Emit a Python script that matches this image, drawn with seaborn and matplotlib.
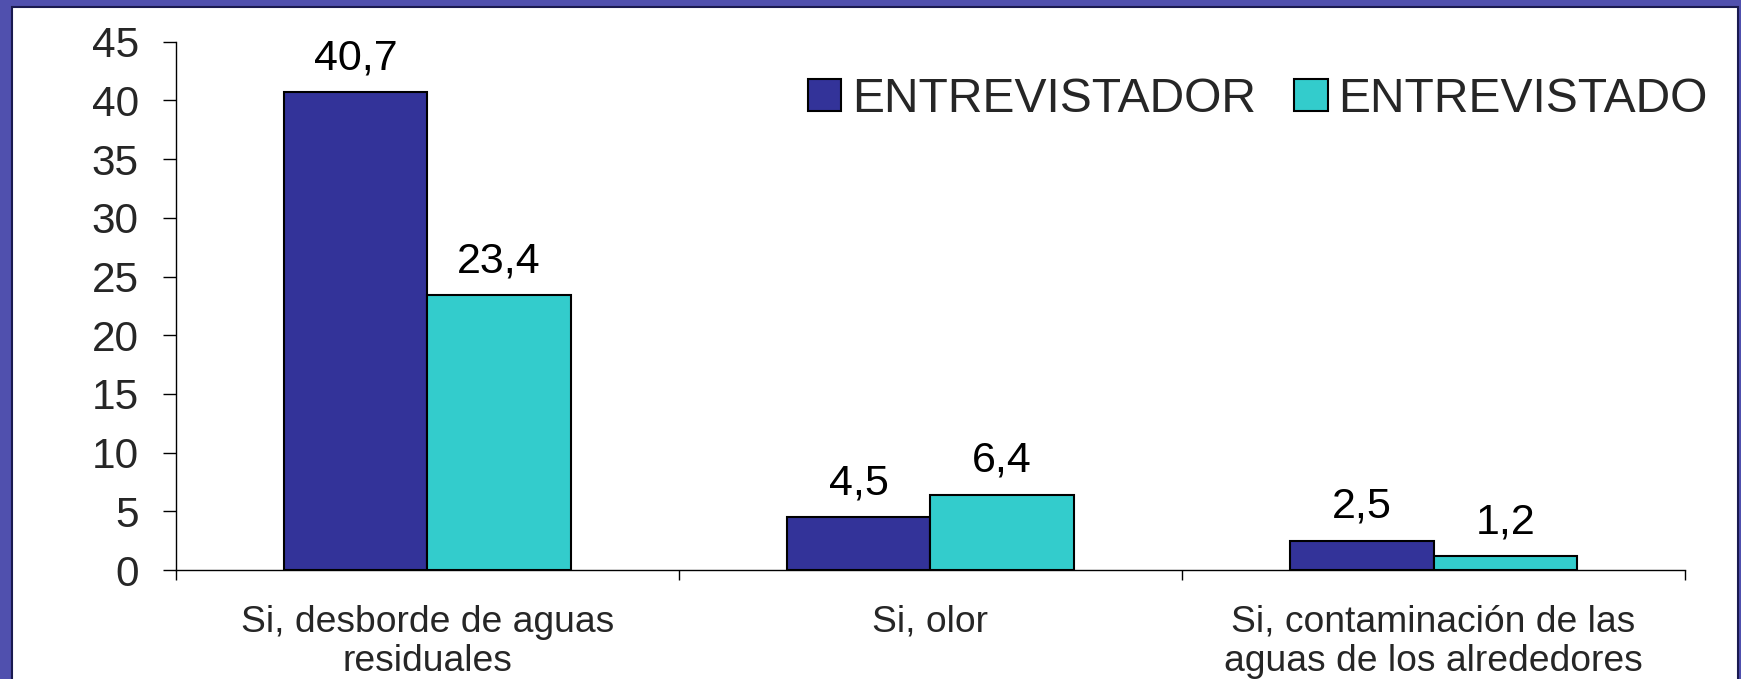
import numpy as np
import pandas as pd
import seaborn as sns
import matplotlib.pyplot as plt
from matplotlib.patches import Rectangle
from matplotlib.ticker import FixedLocator

sns.set_theme(style="white")
plt.rcParams["font.family"] = ["Liberation Sans", "DejaVu Sans"]

CATEGORIES = ["Si, desborde de aguas\nresiduales", "Si, olor",
              "Si, contaminación de las\naguas de los alrededores"]
SERIES = ["ENTREVISTADOR", "ENTREVISTADO"]
ENTREVISTADOR = [40.7, 4.5, 2.5]
ENTREVISTADO = [23.4, 6.4, 1.2]
COLORS = ["#333399", "#33CCCC"]
YTICKS = [0, 5, 10, 15, 20, 25, 30, 35, 40, 45]

df = pd.DataFrame({
    "cat": CATEGORIES * 2,
    "serie": [SERIES[0]] * 3 + [SERIES[1]] * 3,
    "valor": ENTREVISTADOR + ENTREVISTADO,
})

fig = plt.figure(figsize=(17.41, 6.79), dpi=100)
fig.patch.set_facecolor("#5050ae")

# white slide panel behind the chart
bg = fig.add_axes([0, 0, 1, 1], zorder=-10)
bg.set_axis_off()
bg.add_patch(Rectangle((12 / 1741, -0.01), (1738 - 12) / 1741, 1.01 - 7 / 679,
                       transform=bg.transAxes, facecolor="white",
                       edgecolor="#1a1a50", linewidth=1.5))

ax = fig.add_axes([0.1009, 0.1605, 0.9679 - 0.1009, 0.9386 - 0.1605])
ax.set_facecolor("none")

sns.barplot(data=df, x="cat", y="valor", hue="serie", palette=COLORS, saturation=1,
            width=0.57, edgecolor="black", linewidth=1.5, ax=ax, legend=True)

for cont in ax.containers:
    ax.bar_label(cont, labels=[f"{v:.1f}".replace(".", ",") for v in cont.datavalues],
                 padding=10, fontsize=31, color="black")

ax.set_ylim(0, 45)
ax.set_xlim(-0.5, 2.5)
ax.set_yticks(YTICKS)
ax.set_yticklabels([str(t) for t in YTICKS], fontsize=30.5)
ax.tick_params(axis="y", direction="out", length=9.5, width=1, color="black",
               pad=17, left=True)
ax.tick_params(axis="x", which="major", length=0, pad=25, labelsize=26.8)
ax.xaxis.set_minor_locator(FixedLocator([-0.5, 0.5, 1.5, 2.5]))
ax.tick_params(axis="x", which="minor", direction="out", length=7.5, width=1,
               color="black", bottom=True)
for lab in ax.get_xticklabels():
    lab.set_linespacing(1.15)
ax.set_xlabel("")
ax.set_ylabel("")
for s in ["top", "right"]:
    ax.spines[s].set_visible(False)
for s in ["left", "bottom"]:
    ax.spines[s].set_color("black")
    ax.spines[s].set_linewidth(1)

handles, labels = ax.get_legend_handles_labels()
ax.legend(handles, labels, loc="center right", bbox_to_anchor=(1708 / 1741, 1 - 99 / 679),
          bbox_transform=fig.transFigure, ncol=2, frameon=False, fontsize=34.6,
          handlelength=0.7, handleheight=0.65, handletextpad=0.22,
          columnspacing=0.8, borderpad=0, borderaxespad=0)

fig.savefig("out.png", dpi=100, facecolor=fig.get_facecolor())
